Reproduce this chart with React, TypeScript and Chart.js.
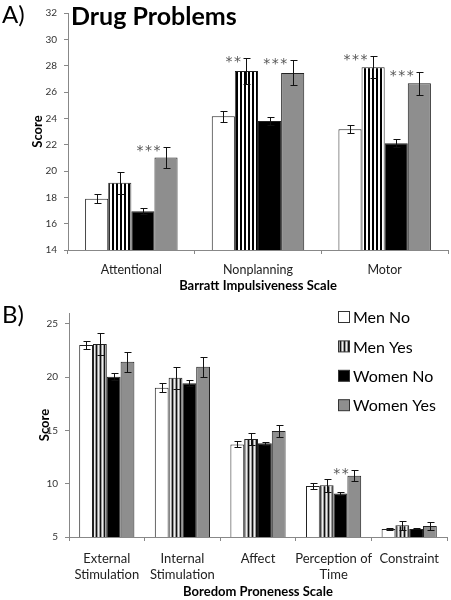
import React, { useEffect, useRef } from "react";
import { Chart, registerables } from "chart.js";

Chart.register(...registerables);

const FONT = "Lato, 'Open Sans', sans-serif";

// ---------- shared series ----------
const SERIES = ["Men No", "Men Yes", "Women No", "Women Yes"];

// ---------- Panel A: Barratt Impulsiveness Scale ----------
const TOP_CATEGORIES = ["Attentional", "Nonplanning", "Motor"];
const TOP_MEN_NO = [17.9, 24.15, 23.18];
const TOP_MEN_YES = [19.1, 27.6, 27.88];
const TOP_WOMEN_NO = [16.95, 23.8, 22.1];
const TOP_WOMEN_YES = [21.03, 27.45, 26.66];
const TOP_ERR_MEN_NO = [0.33, 0.42, 0.32];
const TOP_ERR_MEN_YES = [0.82, 1.0, 0.82];
const TOP_ERR_WOMEN_NO = [0.25, 0.27, 0.3];
const TOP_ERR_WOMEN_YES = [0.78, 0.95, 0.85];
const TOP_TICKS = [14, 16, 18, 20, 22, 24, 26, 28, 30, 32];
const TOP_STARS = [
  { series: 3, index: 0, text: "***" },
  { series: 1, index: 1, text: "**" },
  { series: 3, index: 1, text: "***" },
  { series: 1, index: 2, text: "***" },
  { series: 3, index: 2, text: "***" },
];
const TOP_PANEL = "A)";
const TOP_TITLE = "Drug Problems";
const TOP_X_TITLE = "Barratt Impulsiveness Scale";

// ---------- Panel B: Boredom Proneness Scale ----------
const BOT_CATEGORIES: (string | string[])[] = [
  ["External", "Stimulation"],
  ["Internal", "Stimulation"],
  "Affect",
  ["Perception of", "Time"],
  "Constraint",
];
const BOT_MEN_NO = [23.0, 19.0, 13.68, 9.79, 5.74];
const BOT_MEN_YES = [23.09, 19.93, 14.18, 9.85, 6.1];
const BOT_WOMEN_NO = [20.03, 19.41, 13.78, 9.08, 5.76];
const BOT_WOMEN_YES = [21.42, 20.95, 14.93, 10.75, 6.02];
const BOT_ERR_MEN_NO = [0.42, 0.43, 0.28, 0.27, 0.12];
const BOT_ERR_MEN_YES = [1.0, 1.02, 0.6, 0.6, 0.4];
const BOT_ERR_WOMEN_NO = [0.35, 0.3, 0.13, 0.14, 0.05];
const BOT_ERR_WOMEN_YES = [0.93, 0.93, 0.56, 0.5, 0.37];
const BOT_TICKS = [5, 10, 15, 20, 25];
const BOT_STARS = [{ series: 3, index: 3, text: "**" }];
const BOT_PANEL = "B)";
const BOT_X_TITLE = "Boredom Proneness Scale";

function stripePattern(colors: string[]) {
  const c = document.createElement("canvas");
  c.width = colors.length;
  c.height = 4;
  const g = c.getContext("2d")!;
  colors.forEach((col, i) => {
    g.fillStyle = col;
    g.fillRect(i, 0, 1, 4);
  });
  const ctx = document.createElement("canvas").getContext("2d")!;
  return ctx.createPattern(c, "repeat")!;
}

function makeErrorPlugin(errors: number[][], stars: { series: number; index: number; text: string }[]) {
  return {
    id: "errorBarsStars",
    afterDatasetsDraw(chart: any) {
      const ctx = chart.ctx;
      const yScale = chart.scales.y;
      ctx.save();
      ctx.strokeStyle = "#111";
      ctx.lineWidth = 1;
      chart.data.datasets.forEach((ds: any, di: number) => {
        const meta = chart.getDatasetMeta(di);
        meta.data.forEach((bar: any, i: number) => {
          const v = ds.data[i];
          const e = errors[di][i];
          const x = Math.round(bar.x) + 0.5;
          const yt = Math.round(yScale.getPixelForValue(v + e)) + 0.5;
          const yb = Math.round(yScale.getPixelForValue(v - e)) + 0.5;
          ctx.beginPath();
          ctx.moveTo(x, yt);
          ctx.lineTo(x, yb);
          ctx.moveTo(x - 3, yt);
          ctx.lineTo(x + 4, yt);
          ctx.moveTo(x - 3, yb);
          ctx.lineTo(x + 4, yb);
          ctx.stroke();
        });
      });
      ctx.fillStyle = "#555";
      ctx.font = `14px 'DejaVu Sans', sans-serif`;
      ctx.textAlign = "right";
      ctx.textBaseline = "alphabetic";
      try {
        (ctx as any).letterSpacing = "1.5px";
      } catch (e) {}
      stars.forEach((s) => {
        const ds = chart.data.datasets[s.series];
        const bar = chart.getDatasetMeta(s.series).data[s.index];
        const yt = yScale.getPixelForValue(ds.data[s.index] + errors[s.series][s.index]);
        ctx.fillText(s.text, bar.x - 4, yt + 8);
      });
      ctx.restore();
    },
  };
}

function makePanelTextPlugin(panel: string, title: string | null) {
  return {
    id: "panelText",
    afterDraw(chart: any) {
      const ctx = chart.ctx;
      ctx.save();
      ctx.fillStyle = "#000";
      ctx.textAlign = "left";
      ctx.textBaseline = "alphabetic";
      ctx.font = `24px ${FONT}`;
      ctx.fillText(panel, 2, 23);
      if (title) {
        ctx.font = `bold 25px ${FONT}`;
        ctx.fillText(title, 71, 25);
      }
      ctx.restore();
    },
  };
}

const legendPlugin = {
  id: "customLegend",
  afterDraw(chart: any) {
    const ctx = chart.ctx;
    ctx.save();
    ctx.font = `16px ${FONT}`;
    ctx.textAlign = "left";
    ctx.textBaseline = "middle";
    chart.data.datasets.forEach((ds: any, i: number) => {
      const cy = 17 + i * 29.4;
      ctx.fillStyle = ds.legendColor || ds.backgroundColor;
      ctx.fillRect(338.5, cy - 5.5, 11, 11);
      ctx.strokeStyle = "#333";
      ctx.lineWidth = 1;
      ctx.strokeRect(338.5, cy - 5.5, 11, 11);
      ctx.fillStyle = "#000";
      ctx.fillText(ds.label, 353, cy + 1);
    });
    ctx.restore();
  },
};

function buildOptions(opts: {
  ticks: number[];
  min: number;
  max: number;
  yWidth: number;
  xHeight: number;
  top: number;
  right: number;
  yTitlePad: number;
  xTitlePad: number;
  xLabelPad: number;
  xLabelSize: number;
  xTitle: string;
}) {
  return {
    responsive: false,
    animation: false as const,
    events: [],
    layout: { padding: { left: 0, right: opts.right, top: opts.top, bottom: 0 } },
    plugins: { legend: { display: false }, tooltip: { enabled: false } },
    datasets: { bar: { categoryPercentage: 0.73, barPercentage: 1 } },
    scales: {
      x: {
        grid: { display: true, drawOnChartArea: false, drawTicks: true, tickLength: 4, color: "#888", offset: true },
        border: { display: true, color: "#888", width: 1 },
        ticks: {
          color: "#222",
          font: { family: FONT, size: opts.xLabelSize, lineHeight: 1.22 },
          padding: opts.xLabelPad,
          maxRotation: 0,
          autoSkip: false,
        },
        title: {
          display: true,
          text: opts.xTitle,
          color: "#000",
          font: { family: FONT, size: 13, weight: "bold" as const, lineHeight: 1.2 },
          padding: { top: 0, bottom: opts.xTitlePad },
        },
        afterFit(scale: any) {
          scale.height = opts.xHeight;
        },
      },
      y: {
        min: opts.min,
        max: opts.max,
        grid: { display: true, drawOnChartArea: false, drawTicks: true, tickLength: 4, color: "#888" },
        border: { display: true, color: "#888", width: 1 },
        ticks: {
          color: "#333",
          font: { family: FONT, size: 10 },
          padding: 7,
        },
        title: {
          display: true,
          text: "Score",
          color: "#000",
          font: { family: FONT, size: 13, weight: "bold" as const, lineHeight: 1.2 },
          padding: { top: opts.yTitlePad, bottom: 0 },
        },
        afterBuildTicks(scale: any) {
          scale.ticks = opts.ticks.map((v) => ({ value: v }));
        },
        afterFit(scale: any) {
          scale.width = opts.yWidth;
        },
      },
    },
  };
}

function makeDatasets(values: number[][], menYesFill: CanvasPattern, menYesLegend: CanvasPattern | string) {
  const fills: (string | CanvasPattern)[] = ["#ffffff", menYesFill, "#000000", "#8e8e8e"];
  return SERIES.map((label, i) => ({
    label,
    data: values[i],
    backgroundColor: fills[i],
    legendColor: i === 1 ? menYesLegend : fills[i],
    borderColor: "#222",
    borderWidth: 1,
  }));
}

export default function App() {
  const topRef = useRef<HTMLCanvasElement>(null);
  const botRef = useRef<HTMLCanvasElement>(null);

  useEffect(() => {
    const topPattern = stripePattern(["#000", "#000", "#fff", "#fff"]);
    const botPattern = stripePattern(["#111", "#999", "#eee", "#999"]);

    const top = new Chart(topRef.current!, {
      type: "bar",
      data: {
        labels: TOP_CATEGORIES,
        datasets: makeDatasets(
          [TOP_MEN_NO, TOP_MEN_YES, TOP_WOMEN_NO, TOP_WOMEN_YES],
          topPattern,
          topPattern
        ) as any,
      },
      options: buildOptions({
        ticks: TOP_TICKS,
        min: 14,
        max: 32,
        yWidth: 68,
        xHeight: 50,
        top: 9,
        right: 3,
        yTitlePad: 30,
        xTitlePad: 6,
        xLabelPad: 8,
        xLabelSize: 12.5,
        xTitle: TOP_X_TITLE,
      }) as any,
      plugins: [
        makeErrorPlugin([TOP_ERR_MEN_NO, TOP_ERR_MEN_YES, TOP_ERR_WOMEN_NO, TOP_ERR_WOMEN_YES], TOP_STARS),
        makePanelTextPlugin(TOP_PANEL, TOP_TITLE),
      ],
    });

    const bot = new Chart(botRef.current!, {
      type: "bar",
      data: {
        labels: BOT_CATEGORIES,
        datasets: makeDatasets(
          [BOT_MEN_NO, BOT_MEN_YES, BOT_WOMEN_NO, BOT_WOMEN_YES],
          botPattern,
          botPattern
        ) as any,
      },
      options: buildOptions({
        ticks: BOT_TICKS,
        min: 5,
        max: 26,
        yWidth: 69,
        xHeight: 63,
        top: 11,
        right: 4,
        yTitlePad: 37,
        xTitlePad: 0,
        xLabelPad: 10,
        xLabelSize: 13,
        xTitle: BOT_X_TITLE,
      }) as any,
      plugins: [
        makeErrorPlugin([BOT_ERR_MEN_NO, BOT_ERR_MEN_YES, BOT_ERR_WOMEN_NO, BOT_ERR_WOMEN_YES], BOT_STARS),
        makePanelTextPlugin(BOT_PANEL, null),
        legendPlugin,
      ],
    });

    return () => {
      top.destroy();
      bot.destroy();
    };
  }, []);

  return (
    <div style={{ position: "absolute", left: 0, top: 0, width: 451, height: 600, background: "#fff" }}>
      <canvas ref={topRef} width={451} height={300} style={{ display: "block", width: 451, height: 300 }} />
      <canvas ref={botRef} width={451} height={300} style={{ display: "block", width: 451, height: 300 }} />
    </div>
  );
}
